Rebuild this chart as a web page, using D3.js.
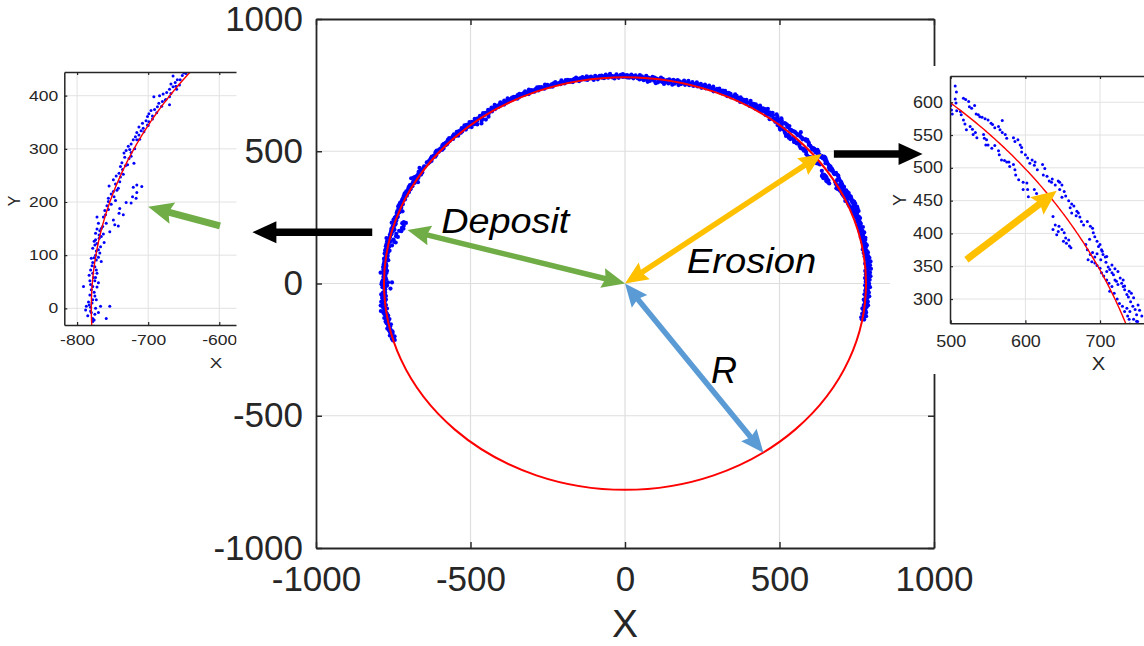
<!DOCTYPE html>
<html>
<head>
<meta charset="utf-8">
<script src="https://cdn.jsdelivr.net/npm/d3@7"></script>
<style>
  body { margin: 0; background: #fff; }
  svg { display: block; }
</style>
</head>
<body>
<svg id="chart" width="1144" height="646"></svg>
<script>
// ---------------------------------------------------------------
// Data
// ---------------------------------------------------------------
const FIT_RADIUS = 780;                       // fitted design circle
const mainTicks  = [-1000, -500, 0, 500, 1000];
const westXTicks = [-800, -700, -600];
const westYTicks = [0, 100, 200, 300, 400];
const eastXTicks = [500, 600, 700];
const eastYTicks = [300, 350, 400, 450, 500, 550, 600];

// Scan returns outside the two detail windows: [bearing (deg), range, range]
const bandScan = [
  [-10,778,786],[-9.5,781,775],[-9,784,790],[-8.5,776,782],[-8,788,780],[-7.5,779,785],[-7,783,774],
  [-6.5,787,780],[-6,777,791],[-5.5,782,786],[-5,789,779],[-4.5,775,784],[-4,786,781],[-3.5,780,792],
  [-3,784,776],[-2.5,790,782],[-2,778,787],[-1.5,785,780],[-1,781,793],[-0.5,788,777],[0,783,790],
  [0.5,779,786],[1,792,782],[1.5,784,777],[2,787,795],[2.5,780,789],[3,794,783],[3.5,786,779],
  [4,790,798],[4.5,783,792],[5,796,787],[5.5,789,781],[6,793,799],[6.5,785,791],[7,797,788],
  [7.5,782,794],[8,790,786],[8.5,795,781],[9,787,792],[9.5,780,789],[10,791,784],[10.5,786,796],
  [11,793,788],[11.5,784,790],[12,789,795],[12.5,797,786],[13,783,791],[13.5,792,787],[14,788,798],
  [14.5,794,784],[15,786,791],[15.5,799,790],[16,791,785],[16.5,788,796],[17,795,789],[17.5,785,793],
  [18,792,800],[18.5,798,788],[19,789,794],[19.5,796,785],
  [50.5,798,776],[51,804,788],[51.5,793,781],[52,801,790],[52.5,787,806],[53,796,778],[53.5,803,792],
  [54,789,799],[54.5,797,783],[55,806,794],[55.5,791,800],[56,799,786],[56.5,785,796],[57,802,791],
  [57.5,794,784],[58,788,799],[58.5,797,790],[59,783,793],[59.5,795,801],[60,789,785],[60.5,798,792],
  [61,786,794],[61.5,793,781],[62,790,797],[62.5,784,791],[63,796,788],[63.5,791,799],[64,787,783],
  [64.5,794,790],[65,782,795],[65.5,792,786],[66,789,797],[66.5,795,784],[67,785,791],[67.5,798,789],
  [68,790,794],[68.5,786,781],[69,793,797],[69.5,788,784],[70,796,791],[70.5,783,789],[71,791,795],
  [71.5,787,780],[72,794,790],[72.5,781,788],[73,790,795],[73.5,785,779],[74,792,787],[74.5,778,784],
  [75,789,793],[75.5,783,776],[76,787,791],[76.5,775,782],[77,784,770],[77.5,779,788],[78,772,783],
  [78.5,786,767],[79,776,781],[79.5,769,785],[80,781,774],[80.5,765,778],[81,783,771],[81.5,774,787],
  [82,768,779],[82.5,781,764],[83,772,784],[83.5,786,777],[84,770,780],[84.5,782,766],[85,775,788],
  [85.5,779,771],[86,785,776],[86.5,773,789],[87,781,777],[87.5,788,783],[88,776,785],[88.5,790,781],
  [89,784,778],[89.5,779,788],[90,787,782],[90.5,781,792],[91,789,785],[91.5,783,778],[92,791,786],
  [92.5,776,784],[93,785,780],[93.5,788,794],[94,780,786],[94.5,792,783],[95,786,779],[95.5,782,790],
  [96,789,785],[96.5,777,784],[97,786,791],[97.5,781,776],[98,790,784],[98.5,784,788],[99,779,793],
  [99.5,787,782],[100,792,786],[100.5,783,790],[101,788,779],[101.5,785,794],[102,791,786],[102.5,780,788],
  [103,789,783],[103.5,784,792],[104,793,787],[104.5,786,781],[105,790,795],[105.5,782,788],[106,787,784],
  [106.5,794,789],[107,785,791],[107.5,789,780],[108,783,787],[108.5,792,786],[109,788,795],[109.5,781,784],
  [110,790,787],[110.5,786,793],[111,794,782],[111.5,787,790],[112,782,788],[112.5,791,785],[113,785,796],
  [113.5,789,781],[114,795,788],[114.5,784,791],[115,790,786],[115.5,786,794],[116,793,783],[116.5,781,789],
  [117,788,792],[117.5,792,785],[118,785,790],[118.5,790,796],[119,783,787],[119.5,794,789],[120,787,781],
  [120.5,791,795],[121,784,788],[121.5,789,783],[122,796,790],[122.5,782,786],[123,790,793],[123.5,785,780],
  [124,792,788],[124.5,779,785],[125,788,770],[125.5,783,791],[126,766,786],[126.5,789,774],[127,771,784],
  [127.5,786,763],[128,778,790],[128.5,768,783],[129,787,775],[129.5,781,791],[130,772,786],[130.5,789,779],
  [131,784,792],[131.5,777,786],[132,790,783],[132.5,785,780],[133,779,788],[133.5,791,784],[134,786,777],
  [134.5,782,790],[135,788,784],[135.5,780,786],[136,785,791],[136.5,790,782],[137,783,787],[137.5,787,780],
  [138,781,789],[138.5,789,784],[139,784,778],[139.5,778,786],[140,786,782],[140.5,782,790],[141,789,785],
  [141.5,780,784],[142,785,779],[142.5,788,783],[143,783,787],[143.5,779,785],[144,786,781],[144.5,782,788],
  [182.5,784,777],[183,779,790],[183.5,786,775],[184,781,788],[184.5,776,784],[185,792,780],[185.5,783,787],
  [186,778,795],[186.5,789,782],[187,785,776],[187.5,797,786],[188,781,790],[188.5,787,779],[189,776,784],
  [189.5,790,782],[190,784,774],[190.5,779,788],[191,786,781],[191.5,773,783],[192,782,777],[192.5,788,780],
  [193,778,784],[193.5,783,774],[194,775,781],[194.5,780,786],[195,772,778],[195.5,777,783],[196,781,775]
];

// West wall detail window (deposit), [x, y]
const westWall = [
  [-650,443],[-647,442],[-665,437],[-659,430],[-662,425],[-668,422],[-656,420],[-665,417],[-660,412],
  [-670,412],[-674,406],[-679,403],[-684,400],[-670,398],[-675,393],[-680,389],[-685,386],[-692,398],
  [-687,379],[-670,383],[-691,374],[-696,372],[-699,366],[-694,362],[-701,361],[-703,353],[-699,351],
  [-708,348],[-701,345],[-707,339],[-713,341],[-710,334],[-716,331],[-713,326],[-718,323],[-721,317],
  [-716,317],[-724,309],[-728,305],[-726,299],[-731,297],[-734,292],[-724,293],[-733,284],[-727,282],
  [-737,274],[-739,267],[-732,268],[-736,261],[-741,254],[-739,247],[-745,249],[-749,242],[-746,234],
  [-742,226],[-755,230],[-749,220],[-752,215],[-756,207],[-720,273],[-721,228],[-716,232],[-709,229],
  [-722,210],[-717,207],
  [-756,201],[-758,193],[-746,203],[-740,188],[-735,176],[-741,179],[-716,218],[-724,198],[-731,199],
  [-761,184],[-763,172],[-772,172],[-749,166],[-747,157],[-742,155],[-759,160],[-764,154],[-772,149],
  [-768,146],[-774,141],[-769,138],[-766,135],[-754,144],[-762,124],[-774,129],[-772,122],[-775,119],
  [-778,113],[-770,110],[-768,104],[-774,100],[-780,94],[-773,91],[-778,86],[-766,88],[-775,78],
  [-781,72],[-773,72],[-778,66],[-774,58],[-782,52],[-775,52],[-791,41],[-778,41],[-772,40],[-780,35],
  [-782,25],[-775,23],[-778,16],[-773,16],[-787,4],[-783,6],[-781,2],[-788,-3],[-767,4],[-754,4],
  [-780,-8],[-785,-14],[-775,-11],[-778,-19],[-759,-19],[-770,-8],[-778,-25],
  [-776,-22],[-781,-5],[-774,0],[-779,10],[-784,12],[-776,30],[-781,45],[-770,48],[-777,58],[-783,62],
  [-772,66],[-776,95],[-779,80],[-770,96],[-773,108],[-767,116],[-776,126],[-769,132],[-763,140],
  [-766,150],[-770,160],[-760,176],[-756,186],[-752,196],[-748,210],[-744,222],[-740,238],[-735,252],
  [-729,270],[-724,286],[-719,300],[-712,318],[-706,332],[-700,344],[-694,356],[-688,368],[-681,380],
  [-676,392],[-668,404],[-661,418],[-655,430],[-652,438]
];

// East wall detail window (erosion), [x, y]
const eastWall = [
  [498,620],[500,595],[502,582],[506,605],[507,599],[508,587],[501,588],[513,586],[514,581],[517,606],
  [520,604],[524,601],[525,593],[528,591],[532,595],[534,582],[537,581],[539,578],[542,577],[546,575],
  [550,573],[517,573],[519,567],[521,558],[526,563],[529,559],[533,554],[535,546],[530,551],[544,551],
  [545,545],[548,543],[547,535],[550,535],[554,568],[556,566],[559,561],[564,563],[569,572],[566,558],
  [569,554],[573,551],[575,545],[555,530],[559,534],[564,526],[565,520],[568,512],[572,511],[575,509],
  [578,509],[579,502],[584,505],[586,497],[587,489],[591,482],[597,478],[602,477],[584,546],[586,540],
  [590,543],[593,535],[595,531],[595,524],[600,520],[603,515],[606,507],[609,512],[613,509],[612,504],
  [616,497],[623,505],[624,489],[626,499],[629,487],[632,480],[635,478],[636,483],[640,474],[644,480],
  [646,478],[649,474],[612,467],[615,461],[603,467],[604,456],[620,455],[626,453],[631,450],[597,467],
  [646,467],[652,464],[654,457],[649,455],[658,450],[662,445],[660,439],[665,442],[669,434],[671,431],
  [673,425],[668,427],[675,418],[678,413],[662,431],[683,418],[687,411],[690,408],[691,401],[693,395],
  [686,391],[696,388],[698,380],[700,383],[702,375],[704,368],[707,364],[701,360],[708,356],[711,349],
  [713,345],[709,342],[716,340],[718,337],[720,329],[722,327],[724,322],[727,332],[729,324],[731,319],
  [733,314],[736,307],[738,303],[741,296],[744,289],[747,284],[749,276],[740,281],[736,286],[745,302],
  [739,312],[733,320],[742,309],[731,329],[724,342],[720,346],[716,352],[709,365],[703,373],[696,369],
  [693,364],[690,371],[687,368],[683,375],[681,383],[684,360],[689,357],[693,355],[696,351],[700,347],
  [702,340],[705,335],[709,329],[712,324],[716,319],[713,312],[719,309],[723,300],[726,293],[730,289],
  [733,281],[737,274],[739,269],[745,269],[749,266],[753,283],[756,274],[751,291],
  [637,426],[640,413],[645,411],[649,406],[652,401],[654,393],[658,390],[659,381],[661,378],[637,406],
  [642,398],[651,388],[655,385],[644,403]
];

// ---------------------------------------------------------------
// Helpers
// ---------------------------------------------------------------
const svg = d3.select("#chart");
const FONT = "'Liberation Sans', Arial, Helvetica, sans-serif";
const INK = "#262626";
const toRad = d => d * Math.PI / 180;

const bandPoints = bandScan.flatMap(([deg, ...ranges]) =>
  ranges.map(r => [r * Math.cos(toRad(deg)), r * Math.sin(toRad(deg))]));
const allPoints = bandPoints.concat(westWall, eastWall);
const fitCircle = d3.range(0, 360.25, 0.25).map(a => [FIT_RADIUS * Math.cos(toRad(a)), FIT_RADIUS * Math.sin(toRad(a))]);

// widen glyphs horizontally while keeping each label's anchor point
function stretchText(sel, k) {
  sel.each(function () {
    const w = this.getComputedTextLength();
    if (w > 0) d3.select(this).attr("textLength", w * k).attr("lengthAdjust", "spacingAndGlyphs");
  });
}

// filled arrow: shaft + (optionally both) heads
function arrow(g, p1, p2, o) {
  const [x1, y1] = p1, [x2, y2] = p2;
  const L = Math.hypot(x2 - x1, y2 - y1);
  const ux = (x2 - x1) / L, uy = (y2 - y1) / L, nx = -uy, ny = ux;
  const notch = o.notch || 0;
  const head = (tx, ty, dx, dy) => {
    const bx = tx - dx * o.hl, by = ty - dy * o.hl;
    return [[tx, ty], [bx + nx * o.hw / 2, by + ny * o.hw / 2],
            [bx + dx * notch, by + dy * notch], [bx - nx * o.hw / 2, by - ny * o.hw / 2]];
  };
  const endShaft = [x2 - ux * (o.hl - notch - 1), y2 - uy * (o.hl - notch - 1)];
  const startShaft = o.double ? [x1 + ux * (o.hl - notch - 1), y1 + uy * (o.hl - notch - 1)] : [x1, y1];
  g.append("line")
    .attr("x1", startShaft[0]).attr("y1", startShaft[1])
    .attr("x2", endShaft[0]).attr("y2", endShaft[1])
    .attr("stroke", o.color).attr("stroke-width", o.w);
  const heads = [head(x2, y2, ux, uy)];
  if (o.double) heads.push(head(x1, y1, -ux, -uy));
  g.selectAll(null).data(heads).join("path")
    .attr("d", d => "M" + d.join("L") + "Z")
    .attr("fill", o.color);
}

// ---------------------------------------------------------------
// Main panel
// ---------------------------------------------------------------
const x = d3.scaleLinear().domain([-1000, 1000]).range([316, 934]);
const y = d3.scaleLinear().domain([-1000, 1000]).range([548, 19]);
const main = svg.append("g");

const grid = main.append("g").attr("stroke", "#dedede").attr("stroke-width", 1.2);
grid.selectAll("line.v").data(mainTicks.slice(1, -1)).join("line").attr("class", "v")
  .attr("x1", d => x(d)).attr("x2", d => x(d)).attr("y1", y(-1000)).attr("y2", y(1000));
grid.selectAll("line.h").data(mainTicks.slice(1, -1)).join("line").attr("class", "h")
  .attr("y1", d => y(d)).attr("y2", d => y(d)).attr("x1", x(-1000)).attr("x2", x(1000));

main.append("g").selectAll("circle").data(allPoints).join("circle")
  .attr("cx", d => x(d[0])).attr("cy", d => y(d[1])).attr("r", 2.1).attr("fill", "#0000ff");

main.append("ellipse")
  .attr("cx", x(0)).attr("cy", y(0))
  .attr("rx", x(FIT_RADIUS) - x(0)).attr("ry", y(0) - y(FIT_RADIUS))
  .attr("fill", "none").attr("stroke", "#ff0000").attr("stroke-width", 2);

function styleAxis(g, size, lw) {
  g.attr("font-family", FONT).attr("font-size", size);
  g.select(".domain").attr("stroke", INK).attr("stroke-width", lw);
  g.selectAll(".tick line").attr("stroke", INK).attr("stroke-width", lw * 0.8);
  g.selectAll(".tick text").attr("fill", INK);
}
const fmt = d => String(d);

main.append("g").attr("transform", `translate(0,${y(-1000)})`)
  .call(d3.axisBottom(x).tickValues(mainTicks).tickFormat(fmt).tickSizeInner(-6).tickSizeOuter(0).tickPadding(18))
  .call(g => styleAxis(g, 35, 1.8));
main.append("g").attr("transform", `translate(${x(-1000)},0)`)
  .call(d3.axisLeft(y).tickValues(mainTicks).tickFormat(fmt).tickSizeInner(-6).tickSizeOuter(0).tickPadding(13))
  .call(g => styleAxis(g, 35, 1.8));
main.append("g").attr("transform", `translate(0,${y(1000)})`)
  .call(d3.axisTop(x).tickValues(mainTicks).tickFormat("").tickSizeInner(-6).tickSizeOuter(0))
  .call(g => styleAxis(g, 35, 1.8));
main.append("g").attr("transform", `translate(${x(1000)},0)`)
  .call(d3.axisRight(y).tickValues(mainTicks).tickFormat("").tickSizeInner(-6).tickSizeOuter(0))
  .call(g => styleAxis(g, 35, 1.8));

main.append("text").attr("x", x(0)).attr("y", 637).attr("text-anchor", "middle")
  .attr("font-family", FONT).attr("font-size", 39).attr("fill", INK).text("X");

// ---------------------------------------------------------------
// Detail windows
// ---------------------------------------------------------------
function detail(cfg) {
  const { id, xs, ys, xTicks, yTicks, clipBox, bg, font, stretch, pad, xLabel, yLabel } = cfg;
  const g = svg.append("g");
  if (bg) g.append("rect").attr("x", bg[0]).attr("y", bg[1]).attr("width", bg[2]).attr("height", bg[3]).attr("fill", "#fff");

  const defs = svg.append("defs");
  defs.append("clipPath").attr("id", id + "-win").append("rect")
    .attr("x", clipBox[0]).attr("y", clipBox[1]).attr("width", clipBox[2]).attr("height", clipBox[3]);
  const [x0, x1] = xs.range(), [y0, y1] = ys.range();
  defs.append("clipPath").attr("id", id + "-plot").append("rect")
    .attr("x", x0).attr("y", y1).attr("width", x1 - x0).attr("height", y0 - y1);

  const win = g.append("g").attr("clip-path", `url(#${id}-win)`);
  const plot = win.append("g").attr("clip-path", `url(#${id}-plot)`);

  const gg = plot.append("g").attr("stroke", "#e2e2e2").attr("stroke-width", 1);
  gg.selectAll("line.v").data(xTicks).join("line").attr("class", "v")
    .attr("x1", d => xs(d)).attr("x2", d => xs(d)).attr("y1", y0).attr("y2", y1);
  gg.selectAll("line.h").data(yTicks).join("line").attr("class", "h")
    .attr("y1", d => ys(d)).attr("y2", d => ys(d)).attr("x1", x0).attr("x2", x1);

  plot.append("g").selectAll("circle").data(allPoints).join("circle")
    .attr("cx", d => xs(d[0])).attr("cy", d => ys(d[1])).attr("r", 1.5).attr("fill", "#0000ff");

  plot.append("path").datum(fitCircle)
    .attr("d", d3.line().x(d => xs(d[0])).y(d => ys(d[1])))
    .attr("fill", "none").attr("stroke", "#ff0000").attr("stroke-width", 1.4);

  const ax = [
    win.append("g").attr("transform", `translate(0,${y0})`)
      .call(d3.axisBottom(xs).tickValues(xTicks).tickFormat(fmt).tickSizeInner(-3).tickSizeOuter(0).tickPadding(pad[0])),
    win.append("g").attr("transform", `translate(${x0},0)`)
      .call(d3.axisLeft(ys).tickValues(yTicks).tickFormat(fmt).tickSizeInner(-3).tickSizeOuter(0).tickPadding(pad[1])),
    win.append("g").attr("transform", `translate(0,${y1})`)
      .call(d3.axisTop(xs).tickValues(xTicks).tickFormat("").tickSizeInner(-3).tickSizeOuter(0)),
    win.append("g").attr("transform", `translate(${x1},0)`)
      .call(d3.axisRight(ys).tickValues(yTicks).tickFormat("").tickSizeInner(-3).tickSizeOuter(0))
  ];
  ax.forEach(a => { styleAxis(a, font, 1.5); stretchText(a.selectAll(".tick text"), stretch); });

  const xl = win.append("text").attr("x", xLabel[0]).attr("y", xLabel[1]).attr("text-anchor", "middle")
    .attr("font-family", FONT).attr("font-size", xLabel[2]).attr("fill", INK).text("X");
  stretchText(xl, stretch);
  win.append("text").attr("transform", `translate(${yLabel[0]},${yLabel[1]}) rotate(-90)`)
    .attr("text-anchor", "middle")
    .attr("font-family", FONT).attr("font-size", yLabel[2]).attr("fill", INK).text("Y");
  return g;
}

// west wall (deposit) window, cut off at its right edge
const wx = d3.scaleLinear().domain([-818, -560]).range([64.3, 247.7]);
const wy = d3.scaleLinear().domain([-31.4, 444.6]).range([325, 72]);
detail({
  id: "west", xs: wx, ys: wy,
  xTicks: westXTicks, yTicks: westYTicks,
  clipBox: [0, 55, 236.5, 330],
  bg: null, font: 14, stretch: 1.25, pad: [10, 6],
  xLabel: [216, 368, 15], yLabel: [20, 201, 16]
});

// east wall (erosion) window, over the main frame
const ex = d3.scaleLinear().domain([499, 775]).range([950, 1156]);
const ey = d3.scaleLinear().domain([263, 640]).range([323.3, 76]);
detail({
  id: "east", xs: ex, ys: ey,
  xTicks: eastXTicks, yTicks: eastYTicks,
  clipBox: [890, 66, 254, 308],
  bg: [890, 66, 254, 308], font: 16, stretch: 1.12, pad: [12, 7],
  xLabel: [1098.5, 370, 18], yLabel: [906, 200, 18]
});

// ---------------------------------------------------------------
// Annotations
// ---------------------------------------------------------------
const notes = svg.append("g");
const P = (a, b) => [x(a), y(b)];

arrow(notes, P(0, 0), P(-704, 202), { color: "#70ad47", w: 5.5, hl: 23, hw: 20, notch: 3, double: true });
arrow(notes, P(0, 0), P(637, 490), { color: "#ffc000", w: 5.5, hl: 23, hw: 20, notch: 3, double: true });
arrow(notes, P(0, 0), P(448, -640), { color: "#5b9bd5", w: 5.5, hl: 23, hw: 20, notch: 3, double: true });

arrow(notes, P(-818, 194), P(-1206, 194), { color: "#000", w: 7.5, hl: 24, hw: 22, notch: 0 });
arrow(notes, P(676, 490), P(963, 490), { color: "#000", w: 7.5, hl: 24, hw: 22, notch: 0 });

// detail-window pointers
arrow(notes, [wx(-599), wy(155)], [wx(-700), wy(191)], { color: "#70ad47", w: 7, hl: 25, hw: 22, notch: 4 });
arrow(notes, [ex(521), ey(360)], [ex(642), ey(465)], { color: "#ffc000", w: 7, hl: 25, hw: 22, notch: 4 });

const label = (txt, a, b, size, k) => {
  const t = notes.append("text").attr("x", x(a)).attr("y", y(b))
    .attr("font-family", FONT).attr("font-style", "italic").attr("font-size", size).attr("fill", "#000").text(txt);
  stretchText(t, k);
};
label("Deposit", -595, 191, 35, 1.08);
label("Erosion", 200, 40, 35, 1.09);
label("R", 278, -376, 36, 1);
</script>
</body>
</html>
